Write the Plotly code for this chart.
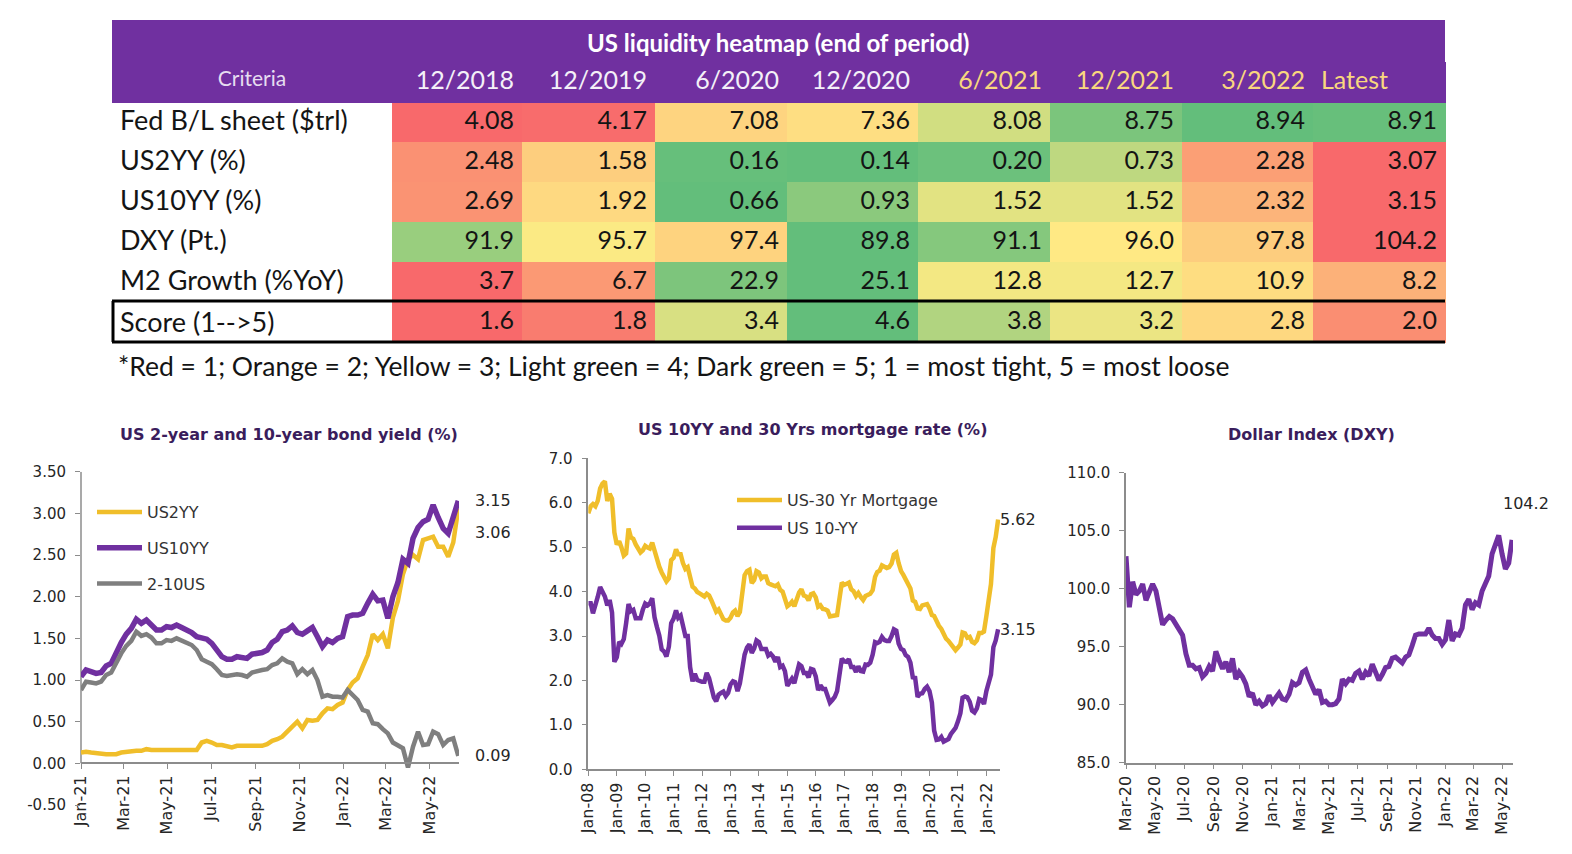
import pandas as pd
import numpy as np
import plotly.graph_objects as go

W, H = 1572, 854

# ---------------- heatmap table data ----------------
PERIODS = ["12/2018", "12/2019", "6/2020", "12/2020", "6/2021", "12/2021", "3/2022", "Latest"]
CRITERIA = ["Fed B/L sheet ($trl)", "US2YY (%)", "US10YY (%)", "DXY (Pt.)",
            "M2 Growth (%YoY)", "Score (1--&gt;5)"]
FED_BS = [4.08, 4.17, 7.08, 7.36, 8.08, 8.75, 8.94, 8.91]
US2YY_TBL = [2.48, 1.58, 0.16, 0.14, 0.20, 0.73, 2.28, 3.07]
US10YY_TBL = [2.69, 1.92, 0.66, 0.93, 1.52, 1.52, 2.32, 3.15]
DXY_TBL = [91.9, 95.7, 97.4, 89.8, 91.1, 96.0, 97.8, 104.2]
M2_GROWTH = [3.7, 6.7, 22.9, 25.1, 12.8, 12.7, 10.9, 8.2]
SCORE = [1.6, 1.8, 3.4, 4.6, 3.8, 3.2, 2.8, 2.0]
DECIMALS = [2, 2, 2, 1, 1, 1]
HIGHER_IS_LOOSER = [True, False, False, False, True, True]

# ---------------- chart 1: US 2y / 10y, weekly from 1 Jan 2021 ----------------
US2YY = [0.13, 0.14, 0.13, 0.12, 0.11, 0.11, 0.11, 0.11, 0.13, 0.14, 0.15, 0.15, 0.15,
         0.17, 0.16, 0.16, 0.16, 0.16, 0.16, 0.16, 0.16, 0.15, 0.15, 0.16, 0.25, 0.27,
         0.25, 0.22, 0.22, 0.20, 0.19, 0.21, 0.21, 0.22, 0.22, 0.21, 0.21, 0.23, 0.27,
         0.29, 0.32, 0.38, 0.45, 0.50, 0.42, 0.52, 0.51, 0.52, 0.60, 0.66, 0.65, 0.70,
         0.73, 0.88, 0.97, 1.02, 1.16, 1.30, 1.55, 1.48, 1.55, 1.38, 1.75, 1.95, 2.27,
         2.45, 2.50, 2.45, 2.68, 2.70, 2.72, 2.60, 2.60, 2.48, 2.65, 3.06]
US10YY = [1.04, 1.12, 1.10, 1.08, 1.09, 1.17, 1.20, 1.33, 1.45, 1.55, 1.62, 1.73, 1.68,
          1.72, 1.67, 1.60, 1.60, 1.64, 1.63, 1.66, 1.63, 1.60, 1.57, 1.52, 1.50, 1.49,
          1.44, 1.35, 1.28, 1.25, 1.25, 1.28, 1.27, 1.26, 1.31, 1.32, 1.33, 1.36, 1.45,
          1.49, 1.58, 1.60, 1.65, 1.57, 1.55, 1.59, 1.63, 1.52, 1.40, 1.48, 1.45, 1.50,
          1.52, 1.76, 1.78, 1.78, 1.80, 1.92, 2.03, 1.95, 1.96, 1.74, 2.00, 2.17, 2.45,
          2.40, 2.70, 2.83, 2.90, 2.93, 3.10, 2.95, 2.82, 2.76, 2.95, 3.15]
SPREAD_2_10 = [0.88, 0.98, 0.97, 0.96, 0.98, 1.06, 1.09, 1.22, 1.32, 1.41, 1.47, 1.58, 1.53,
               1.55, 1.51, 1.44, 1.44, 1.48, 1.47, 1.50, 1.47, 1.45, 1.42, 1.36, 1.25, 1.22,
               1.19, 1.13, 1.06, 1.05, 1.06, 1.07, 1.06, 1.04, 1.09, 1.11, 1.12, 1.13, 1.18,
               1.20, 1.26, 1.22, 1.20, 1.07, 1.13, 1.07, 1.12, 1.00, 0.80, 0.82, 0.80, 0.80,
               0.79, 0.88, 0.81, 0.76, 0.64, 0.62, 0.48, 0.47, 0.41, 0.36, 0.25, 0.22, 0.18,
               -0.05, 0.20, 0.38, 0.22, 0.23, 0.38, 0.35, 0.22, 0.28, 0.30, 0.09]
YIELD_TICKS = [-0.5, 0.0, 0.5, 1.0, 1.5, 2.0, 2.5, 3.0, 3.5]

# ---------------- chart 2: 10y vs 30y mortgage, monthly from Jan 2008 ----------------
MORTGAGE_30Y = [
    5.76, 5.92, 5.97, 5.92, 6.04, 6.32, 6.43, 6.48, 6.04, 6.20, 6.09, 5.33,
    5.06, 5.13, 5.00, 4.81, 4.86, 5.42, 5.22, 5.19, 5.06, 4.95, 4.88, 4.93,
    5.03, 4.99, 4.97, 5.10, 4.89, 4.74, 4.56, 4.43, 4.35, 4.23, 4.30, 4.71,
    4.76, 4.95, 4.84, 4.84, 4.64, 4.51, 4.55, 4.27, 4.11, 4.07, 3.99, 3.96,
    3.92, 3.89, 3.95, 3.91, 3.80, 3.68, 3.55, 3.60, 3.50, 3.38, 3.35, 3.35,
    3.41, 3.53, 3.57, 3.45, 3.54, 4.07, 4.37, 4.46, 4.49, 4.19, 4.26, 4.46,
    4.43, 4.30, 4.34, 4.34, 4.19, 4.16, 4.13, 4.12, 4.16, 4.04, 4.00, 3.86,
    3.67, 3.71, 3.77, 3.67, 3.84, 3.98, 4.05, 3.91, 3.89, 3.80, 3.94, 3.96,
    3.87, 3.66, 3.69, 3.61, 3.60, 3.57, 3.44, 3.44, 3.46, 3.47, 3.77, 4.20,
    4.15, 4.17, 4.20, 4.05, 4.01, 3.90, 3.97, 3.88, 3.81, 3.90, 3.92, 3.95,
    4.03, 4.33, 4.44, 4.47, 4.59, 4.57, 4.53, 4.55, 4.63, 4.83, 4.87, 4.64,
    4.46, 4.37, 4.27, 4.14, 4.07, 3.80, 3.77, 3.62, 3.61, 3.69, 3.70, 3.72,
    3.62, 3.47, 3.45, 3.31, 3.23, 3.16, 3.02, 2.94, 2.89, 2.83, 2.77, 2.68,
    2.74, 2.81, 3.08, 3.06, 2.96, 2.98, 2.87, 2.84, 2.90, 3.07, 3.07, 3.10,
    3.45, 3.76, 4.17, 4.98, 5.23, 5.62,
]
US10YY_M = [
    3.74, 3.74, 3.51, 3.68, 3.88, 4.10, 4.01, 3.89, 3.69, 3.81, 3.53, 2.42,
    2.52, 2.87, 2.82, 2.93, 3.29, 3.72, 3.56, 3.59, 3.40, 3.39, 3.40, 3.59,
    3.73, 3.69, 3.73, 3.85, 3.42, 3.20, 3.01, 2.70, 2.65, 2.54, 2.76, 3.29,
    3.39, 3.58, 3.41, 3.46, 3.17, 3.00, 3.00, 2.30, 1.98, 2.15, 2.01, 1.98,
    1.97, 1.97, 2.17, 2.05, 1.80, 1.62, 1.53, 1.68, 1.72, 1.75, 1.65, 1.72,
    1.91, 1.98, 1.96, 1.76, 1.93, 2.30, 2.58, 2.74, 2.81, 2.62, 2.72, 2.90,
    2.86, 2.71, 2.72, 2.71, 2.56, 2.60, 2.54, 2.42, 2.53, 2.30, 2.33, 2.21,
    1.88, 1.98, 2.04, 1.94, 2.20, 2.36, 2.32, 2.17, 2.17, 2.07, 2.26, 2.24,
    2.09, 1.78, 1.89, 1.81, 1.81, 1.64, 1.50, 1.56, 1.63, 1.76, 2.14, 2.49,
    2.43, 2.42, 2.48, 2.30, 2.30, 2.19, 2.32, 2.21, 2.20, 2.36, 2.35, 2.40,
    2.58, 2.86, 2.84, 2.87, 2.98, 2.91, 2.89, 2.89, 3.00, 3.15, 3.12, 2.83,
    2.71, 2.68, 2.57, 2.53, 2.40, 2.07, 2.06, 1.63, 1.70, 1.71, 1.81, 1.86,
    1.76, 1.50, 0.87, 0.66, 0.67, 0.73, 0.62, 0.65, 0.68, 0.79, 0.87, 0.93,
    1.08, 1.26, 1.61, 1.64, 1.62, 1.52, 1.32, 1.28, 1.37, 1.58, 1.56, 1.47,
    1.76, 1.93, 2.13, 2.75, 2.90, 3.15,
]

# ---------------- chart 3: DXY, weekly from 20 Mar 2020 ----------------
DXY = [
    102.8, 98.4, 100.6, 99.5, 99.8, 100.4, 99.0, 99.7, 100.4, 99.8, 98.3, 96.9, 97.3,
    97.6, 97.4, 96.9, 96.6, 96.0, 94.4, 93.4, 93.4, 93.1, 93.2, 92.4, 92.7, 93.3, 92.9,
    94.6, 93.8, 93.1, 93.7, 92.8, 94.0, 92.2, 92.8, 92.4, 91.8, 90.7, 91.0, 90.0, 90.3,
    89.9, 90.1, 90.8, 90.2, 90.6, 91.0, 90.5, 90.4, 90.9, 91.9, 91.7, 91.9, 92.8, 93.0,
    92.2, 91.6, 90.9, 91.3, 90.2, 90.3, 90.0, 90.0, 90.1, 90.5, 92.2, 91.8, 92.2, 92.1,
    92.7, 92.9, 92.2, 92.8, 92.5, 93.5, 92.7, 92.1, 92.6, 93.2, 93.3, 94.0, 94.1, 93.9,
    93.6, 94.1, 94.3, 95.1, 96.0, 96.1, 96.1, 96.1, 96.6, 96.0, 95.7,
    95.7, 95.2, 95.6, 97.3, 95.5, 96.1, 96.0, 96.6, 98.6, 99.1, 98.2, 98.8, 98.6, 99.8,
    100.5, 101.1, 103.0, 103.7, 104.6, 103.0, 101.7, 102.2, 104.2,
]

PURPLE = "#7030A0"
GOLD = "#F0BE2A"
GREY = "#7F7F7F"
TITLE_COLOR = "#3A1D5C"
RED, YELLOW, GREEN = (248, 105, 107), (255, 235, 132), (99, 190, 123)


def mix(c1, c2, t):
    t = min(max(t, 0.0), 1.0)
    r, g, b = (round(a + (b_ - a) * t) for a, b_ in zip(c1, c2))
    return f"rgb({r},{g},{b})"


def scale_colors(values, higher_good):
    # three colour scale: min / 50th percentile / max
    lo, hi = min(values), max(values)
    mid = float(np.percentile(values, 50))
    low_c, high_c = (RED, GREEN) if higher_good else (GREEN, RED)
    out = []
    for v in values:
        if v <= mid:
            out.append(mix(low_c, YELLOW, (v - lo) / (mid - lo)))
        else:
            out.append(mix(YELLOW, high_c, (v - mid) / (hi - mid)))
    return out


def px_x(p):
    return p / W


def px_y(p):
    return 1 - p / H


def main():
    rows = [FED_BS, US2YY_TBL, US10YY_TBL, DXY_TBL, M2_GROWTH, SCORE]
    row_colors = [scale_colors(v, g) for v, g in zip(rows, HIGHER_IS_LOOSER)]

    # the score label is written as an annotation (the table shifts that cell down)
    cell_values = [CRITERIA[:-1] + [""]]
    cell_fill = [["white"] * len(CRITERIA)]
    for c in range(len(PERIODS)):
        cell_values.append([f"{rows[r][c]:.{DECIMALS[r]}f}" for r in range(len(rows))])
        cell_fill.append([row_colors[r][c] for r in range(len(rows))])

    header_colors = ["#E6DDF0"] + ["#F4F0F8"] * 4 + ["#F9D77E"] * 4

    fig = go.Figure()

    fig.add_trace(go.Table(
        domain=dict(x=[px_x(112), px_x(1445)], y=[px_y(346), px_y(62)]),
        columnwidth=[280, 130, 133, 132, 131, 132, 132, 131, 132],
        header=dict(values=["Criteria"] + PERIODS,
                    fill_color=PURPLE,
                    line=dict(color=PURPLE, width=1),
                    align=["center"] + ["right"] * 7 + ["left"],
                    font=dict(family="Lato", size=[21] + [25] * 8, color=header_colors),
                    height=40),
        cells=dict(values=cell_values,
                   fill_color=cell_fill,
                   line=dict(color=cell_fill, width=1),
                   align=["left"] + ["right"] * 8,
                   font=dict(family="Lato", size=[27] + [25] * 8, color="#141414"),
                   height=40),
    ))

    # chart 1
    d1 = pd.date_range("2021-01-01", periods=len(US2YY), freq="7D")
    for name, vals, color, width in [("US2YY", US2YY, GOLD, 4.5),
                                     ("US10YY", US10YY, PURPLE, 5.5),
                                     ("2-10US", SPREAD_2_10, GREY, 4.5)]:
        fig.add_trace(go.Scatter(x=d1, y=vals, name=name, mode="lines",
                                 line=dict(color=color, width=width),
                                 legend="legend", legendgroup=name,
                                 xaxis="x", yaxis="y"))

    # chart 2
    d2 = pd.date_range("2008-01-01", periods=len(MORTGAGE_30Y), freq="MS")
    for name, vals, color in [("US-30 Yr Mortgage", MORTGAGE_30Y, GOLD),
                              ("US 10-YY", US10YY_M, PURPLE)]:
        fig.add_trace(go.Scatter(x=d2, y=vals, name=name, mode="lines",
                                 line=dict(color=color, width=4.5),
                                 legend="legend2", legendgroup=name,
                                 xaxis="x2", yaxis="y2"))

    # chart 3
    d3 = pd.date_range("2020-03-20", periods=len(DXY), freq="7D")
    fig.add_trace(go.Scatter(x=d3, y=DXY, name="DXY", mode="lines", showlegend=False,
                             line=dict(color=PURPLE, width=5),
                             xaxis="x3", yaxis="y3"))

    axis = dict(showline=True, linecolor="#8C8C8C", linewidth=1.5, ticks="outside",
                tickcolor="#8C8C8C", ticklen=5, showgrid=False, zeroline=False,
                automargin=False,
                tickfont=dict(family="DejaVu Sans", size=15, color="#262626"))
    yax = dict(axis, ticklabelstandoff=6)
    xdate = dict(axis, type="date", tickformat="%b-%y", tickangle=-90,
                 tickfont=dict(family="DejaVu Sans", size=16, color="#262626"))

    y1_dom = [px_y(805), px_y(471.7)]
    zero_pos = y1_dom[0] + (0.5 / 4.0) * (y1_dom[1] - y1_dom[0])

    fig.update_layout(
        xaxis=dict(xdate, domain=[px_x(81), px_x(459)], range=["2021-01-01", "2022-06-11"],
                   tick0="2021-01-01", dtick="M2", anchor="free", position=zero_pos),
        yaxis=dict(yax, domain=y1_dom, range=[-0.5, 3.5], tickvals=YIELD_TICKS,
                   ticktext=[f"{v:.2f}" for v in YIELD_TICKS], showline=False, anchor="x"),
        xaxis2=dict(xdate, domain=[px_x(588.3), px_x(1000)], range=["2008-01-01", "2022-06-25"],
                    tick0="2008-01-01", dtick="M12", anchor="y2"),
        yaxis2=dict(yax, domain=[px_y(769.3), px_y(458.3)], range=[0, 7], dtick=1,
                    tickformat=".1f", anchor="x2"),
        xaxis3=dict(xdate, domain=[px_x(1126), px_x(1513)], range=["2020-03-20", "2022-06-12"],
                    tick0="2020-03-20", dtick="M2", anchor="y3"),
        yaxis3=dict(yax, domain=[px_y(762.7), px_y(472.7)], range=[85, 110], dtick=5,
                    tickformat=".1f", anchor="x3"),
        legend=dict(x=px_x(92), y=px_y(495), xanchor="left", yanchor="top",
                    bgcolor="rgba(0,0,0,0)", tracegroupgap=12, itemwidth=45,
                    font=dict(family="DejaVu Sans", size=16, color="#333333")),
        legend2=dict(x=px_x(732), y=px_y(483), xanchor="left", yanchor="top",
                     bgcolor="rgba(0,0,0,0)", tracegroupgap=4, itemwidth=45,
                     font=dict(family="DejaVu Sans", size=16, color="#333333")),
        width=W,
        height=H,
        margin=dict(l=0, r=0, t=0, b=0),
        paper_bgcolor="white",
        plot_bgcolor="white",
    )

    shapes = [
        # title band of the table
        dict(type="rect", xref="paper", yref="paper", x0=px_x(112), x1=px_x(1445),
             y0=px_y(62.5), y1=px_y(20), fillcolor=PURPLE, line=dict(width=0), layer="below"),
        # score row frame
        dict(type="line", xref="paper", yref="paper", x0=px_x(112), x1=px_x(1445),
             y0=px_y(301), y1=px_y(301), line=dict(color="black", width=3)),
        dict(type="line", xref="paper", yref="paper", x0=px_x(112), x1=px_x(1445),
             y0=px_y(342), y1=px_y(342), line=dict(color="black", width=3)),
        dict(type="line", xref="paper", yref="paper", x0=px_x(113), x1=px_x(113),
             y0=px_y(301), y1=px_y(342), line=dict(color="black", width=3)),
        # y axis line of chart 1 (stops at zero)
        dict(type="line", xref="x domain", yref="y", x0=0, x1=0, y0=0, y1=3.5,
             line=dict(color="#8C8C8C", width=1.5), layer="below"),
    ]
    fig.update_layout(shapes=shapes)

    title_font = dict(family="DejaVu Sans", size=16, color=TITLE_COLOR)
    label_font = dict(family="DejaVu Sans", size=16, color="#262626")
    note = dict(xref="paper", showarrow=False, xanchor="center", yanchor="middle")
    annotations = [
        dict(note, x=px_x(778), y=px_y(42), yref="paper",
             text="<b>US liquidity heatmap (end of period)</b>",
             font=dict(family="Lato", size=24, color="white")),
        dict(note, x=px_x(118), y=px_y(321), yref="paper", xanchor="left",
             text=CRITERIA[-1], font=dict(family="Lato", size=27, color="#141414")),
        dict(note, x=px_x(116), y=px_y(366), yref="paper", xanchor="left",
             text="*Red = 1; Orange = 2; Yellow = 3; Light green = 4; "
                  "Dark green = 5; 1 = most tight, 5 = most loose",
             font=dict(family="Lato", size=26.5, color="#141414")),
        dict(note, x=px_x(289), y=px_y(434), yref="paper",
             text="<b>US 2-year and 10-year bond yield (%)</b>", font=title_font),
        dict(note, x=px_x(812), y=px_y(429), yref="paper",
             text="<b>US 10YY and 30 Yrs mortgage rate (%)</b>", font=title_font),
        dict(note, x=px_x(1311), y=px_y(434), yref="paper",
             text="<b>Dollar Index (DXY)</b>", font=title_font),
        # end-of-series labels
        dict(note, x=px_x(473), y=US10YY[-1], yref="y", xanchor="left",
             text=f"{US10YY[-1]:.2f}", font=label_font),
        dict(note, x=px_x(473), y=US2YY[-1], yshift=-24, yref="y", xanchor="left",
             text=f"{US2YY[-1]:.2f}", font=label_font),
        dict(note, x=px_x(473), y=SPREAD_2_10[-1], yref="y", xanchor="left",
             text=f"{SPREAD_2_10[-1]:.2f}", font=label_font),
        dict(note, x=px_x(998), y=MORTGAGE_30Y[-1], yref="y2", xanchor="left",
             text=f"{MORTGAGE_30Y[-1]:.2f}", font=label_font),
        dict(note, x=px_x(998), y=US10YY_M[-1], yref="y2", xanchor="left",
             text=f"{US10YY_M[-1]:.2f}", font=label_font),
        dict(note, x=px_x(1526), y=DXY[-1], yshift=36, yref="y3",
             text=f"{DXY[-1]:.1f}", font=label_font),
    ]
    fig.update_layout(annotations=annotations)

    fig.write_html("out.html", config={"displayModeBar": False},
                   post_script="document.body.style.margin = '0';"
                               "document.body.style.overflow = 'hidden';")


if __name__ == "__main__":
    main()
